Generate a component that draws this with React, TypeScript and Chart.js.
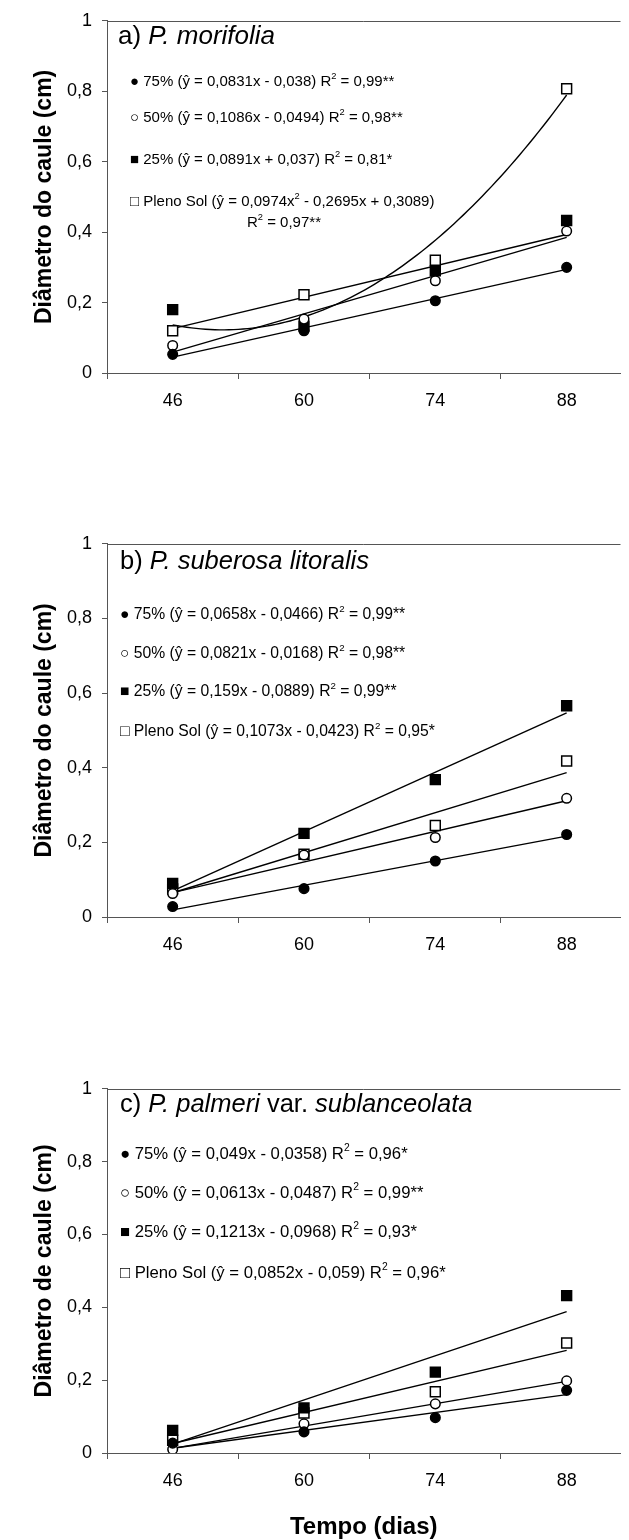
import React, { useEffect, useRef } from 'react';
import { Chart, registerables } from 'chart.js';

Chart.register(...registerables);

const FONT = '"Liberation Sans", Arial, Helvetica, sans-serif';

// ---- data ----
const DAYS = [46, 60, 74, 88];
const Y_TICKS = [0, 0.2, 0.4, 0.6, 0.8, 1];
const SERIES = ['75%', '50%', '25%', 'Pleno Sol'];

// a) P. morifolia
const A_75 = [0.053, 0.12, 0.205, 0.3];
const A_50 = [0.078, 0.153, 0.262, 0.403];
const A_25 = [0.18, 0.133, 0.29, 0.433];
const A_PS = [0.12, 0.222, 0.32, 0.807];

// b) P. suberosa litoralis
const B_75 = [0.028, 0.076, 0.15, 0.221];
const B_50 = [0.063, 0.166, 0.213, 0.318];
const B_25 = [0.09, 0.224, 0.368, 0.566];
const B_PS = [0.075, 0.168, 0.245, 0.418];

// c) P. palmeri var. sublanceolata
const C_75 = [0.027, 0.058, 0.097, 0.172];
const C_50 = [0.01, 0.08, 0.135, 0.198];
const C_25 = [0.062, 0.124, 0.222, 0.432];
const C_PS = [0.035, 0.11, 0.168, 0.302];

// regression coefficients [x^2, x, const], x = sampling order 1..4
const A_FIT_75 = [0, 0.0831, -0.038];
const A_FIT_50 = [0, 0.1086, -0.0494];
const A_FIT_25 = [0, 0.0891, 0.037];
const A_FIT_PS = [0.0974, -0.2695, 0.3089];

const B_FIT_75 = [0, 0.0658, -0.0466];
const B_FIT_50 = [0, 0.0821, -0.0168];
const B_FIT_25 = [0, 0.159, -0.0889];
const B_FIT_PS = [0, 0.1073, -0.0423];

const C_FIT_75 = [0, 0.049, -0.0358];
const C_FIT_50 = [0, 0.0613, -0.0487];
const C_FIT_25 = [0, 0.1213, -0.0968];
const C_FIT_PS = [0, 0.0852, -0.059];

const A_TITLE = 'a) _P. morifolia_';
const B_TITLE = 'b) _P. suberosa litoralis_';
const C_TITLE = 'c) _P. palmeri_ var. _sublanceolata_';

const A_LEGEND = [
  '● 75% (ŷ = 0,0831x - 0,038) R^2 = 0,99**',
  '○ 50% (ŷ = 0,1086x - 0,0494) R^2 = 0,98**',
  '■ 25% (ŷ = 0,0891x + 0,037) R^2 = 0,81*',
  '□ Pleno Sol (ŷ = 0,0974x^2 - 0,2695x + 0,3089)',
  'R^2 = 0,97**',
];
const B_LEGEND = [
  '● 75% (ŷ = 0,0658x - 0,0466) R^2 = 0,99**',
  '○ 50% (ŷ = 0,0821x - 0,0168) R^2 = 0,98**',
  '■ 25% (ŷ = 0,159x - 0,0889) R^2 = 0,99**',
  '□ Pleno Sol (ŷ = 0,1073x - 0,0423) R^2 = 0,95*',
];
const C_LEGEND = [
  '● 75% (ŷ = 0,049x - 0,0358) R^2 = 0,96*',
  '○ 50% (ŷ = 0,0613x - 0,0487) R^2 = 0,99**',
  '■ 25% (ŷ = 0,1213x - 0,0968) R^2 = 0,93*',
  '□ Pleno Sol (ŷ = 0,0852x - 0,059) R^2 = 0,96*',
];

const Y_TITLE_AB = 'Diâmetro do caule (cm)';
const Y_TITLE_C = 'Diâmetro de caule (cm)';
const X_TITLE = 'Tempo (dias)';

// ---- helpers ----
const fitValue = (c: number[], day: number) => {
  const x = (day - DAYS[0]) / (DAYS[1] - DAYS[0]) + 1;
  return c[0] * x * x + c[1] * x + c[2];
};

const trendDays = (c: number[]) => {
  if (c[0] === 0) return [DAYS[0], DAYS[DAYS.length - 1]];
  const out: number[] = [];
  for (let d = DAYS[0]; d <= DAYS[DAYS.length - 1]; d += 0.5) out.push(d);
  return out;
};

const AXIS = '#555555';

function drawRich(ctx: CanvasRenderingContext2D, str: string, x: number, y: number, size: number) {
  let italic = false;
  let cx = x;
  let buf = '';
  const flush = () => {
    if (!buf) return;
    ctx.font = `${italic ? 'italic ' : ''}${size}px ${FONT}`;
    ctx.fillText(buf, cx, y);
    cx += ctx.measureText(buf).width;
    buf = '';
  };
  for (let i = 0; i < str.length; i++) {
    const ch = str[i];
    if (ch === '_') {
      flush();
      italic = !italic;
      continue;
    }
    if (ch === '^') {
      flush();
      const s = str[++i];
      const ss = size * 0.62;
      ctx.font = `${italic ? 'italic ' : ''}${ss}px ${FONT}`;
      ctx.fillText(s, cx, y - size * 0.38);
      cx += ctx.measureText(s).width;
      continue;
    }
    buf += ch;
  }
  flush();
}

type Ann = { text: string; x: number; y: number; size: number };

interface PanelProps {
  top: number;
  height: number;
  plotBottom: number; // within canvas
  values: number[][];
  fits: number[][];
  yTitle: string;
  xTitle?: string;
  anns: Ann[];
}

const STYLES = [
  { pointStyle: 'circle', fill: '#000000', r: 4.8 },
  { pointStyle: 'circle', fill: '#ffffff', r: 4.8 },
  { pointStyle: 'rect', fill: '#000000', r: 7 },
  { pointStyle: 'rect', fill: '#ffffff', r: 7 },
];

function Panel({ top, height, plotBottom, values, fits, yTitle, xTitle, anns }: PanelProps) {
  const ref = useRef<HTMLCanvasElement | null>(null);
  useEffect(() => {
    if (!ref.current) return;
    const datasets: any[] = [];
    fits.forEach((c, i) => {
      datasets.push({
        label: SERIES[i] + ' (ajuste)',
        data: trendDays(c).map((d) => ({ x: d, y: fitValue(c, d) })),
        showLine: true,
        borderColor: '#000000',
        borderWidth: 1.4,
        pointRadius: 0,
        fill: false,
        tension: 0,
        order: 10 + i,
      });
    });
    values.forEach((v, i) => {
      const s = STYLES[i];
      datasets.push({
        label: SERIES[i],
        data: DAYS.map((d, j) => ({ x: d, y: v[j] })),
        showLine: false,
        pointStyle: s.pointStyle,
        pointRadius: s.r,
        pointBackgroundColor: s.fill,
        pointBorderColor: '#000000',
        pointBorderWidth: 1.5,
        order: 1 + i,
      });
    });

    const annPlugin = {
      id: 'ann',
      afterDraw(chart: any) {
        const ctx = chart.ctx as CanvasRenderingContext2D;
        const ca = chart.chartArea;
        ctx.save();
        ctx.strokeStyle = AXIS;
        ctx.lineWidth = 1;
        ctx.beginPath();
        ctx.moveTo(ca.left, Math.round(ca.top) + 0.5);
        ctx.lineTo(ca.right, Math.round(ca.top) + 0.5);
        ctx.stroke();
        ctx.fillStyle = '#000000';
        ctx.textBaseline = 'middle';
        ctx.textAlign = 'left';
        anns.forEach((a) => drawRich(ctx, a.text, a.x, a.y - top, a.size));
        ctx.restore();
      },
    };

    const xh = height - plotBottom;
    const chart = new Chart(ref.current, {
      type: 'scatter',
      data: { datasets },
      plugins: [annPlugin],
      options: {
        animation: false,
        responsive: false,
        maintainAspectRatio: false,
        layout: { padding: { top: 15, left: 0, right: 0, bottom: 0 } },
        plugins: { legend: { display: false }, tooltip: { enabled: false } },
        scales: {
          x: {
            type: 'linear',
            min: 39,
            max: 93.74,
            afterBuildTicks: (s: any) => {
              s.ticks = DAYS.map((v) => ({ value: v }));
            },
            afterFit: (s: any) => {
              s.height = xh;
            },
            ticks: {
              callback: (v: any) => String(v),
              font: { family: FONT, size: 18 },
              color: '#000000',
              padding: 11,
              maxRotation: 0,
              autoSkip: false,
            },
            grid: {
              offset: true,
              drawOnChartArea: false,
              drawTicks: true,
              tickLength: 6,
              color: AXIS,
            },
            border: { display: true, color: AXIS, width: 1 },
            title: {
              display: !!xTitle,
              text: xTitle || '',
              color: '#000000',
              font: { family: FONT, size: 24, weight: 'bold', lineHeight: 1 },
              padding: { top: 0, bottom: 1 },
            },
          },
          y: {
            min: 0,
            max: 1,
            afterBuildTicks: (s: any) => {
              s.ticks = Y_TICKS.map((v) => ({ value: v }));
            },
            afterFit: (s: any) => {
              s.width = 107;
            },
            ticks: {
              callback: (v: any) => (v === 0 || v === 1 ? String(v) : Number(v).toFixed(1).replace('.', ',')),
              font: { family: FONT, size: 18 },
              color: '#000000',
              padding: 10,
            },
            grid: {
              drawOnChartArea: false,
              drawTicks: true,
              tickLength: 5,
              color: AXIS,
            },
            border: { display: true, color: AXIS, width: 1 },
            title: {
              display: true,
              text: yTitle,
              color: '#000000',
              font: { family: FONT, size: 23, weight: 'bold' },
              padding: { top: 31, bottom: 0 },
            },
          },
        },
      } as any,
    });
    return () => chart.destroy();
  }, []);
  return (
    <canvas
      ref={ref}
      width={629}
      height={height}
      style={{ position: 'absolute', left: 0, top, width: 629, height }}
    />
  );
}

export default function App() {
  return (
    <div style={{ position: 'absolute', left: 0, top: 0, width: 629, height: 1540, background: '#ffffff' }}>
      <Panel
        top={0}
        height={420}
        plotBottom={373}
        values={[A_75, A_50, A_25, A_PS]}
        fits={[A_FIT_75, A_FIT_50, A_FIT_25, A_FIT_PS]}
        yTitle={Y_TITLE_AB}
        anns={[
          { text: A_TITLE, x: 118, y: 37, size: 26 },
          { text: A_LEGEND[0], x: 130, y: 82, size: 15 },
          { text: A_LEGEND[1], x: 130, y: 118, size: 15 },
          { text: A_LEGEND[2], x: 130, y: 160, size: 15 },
          { text: A_LEGEND[3], x: 130, y: 202, size: 15 },
          { text: A_LEGEND[4], x: 247, y: 223, size: 15 },
        ]}
      />
      <Panel
        top={523}
        height={441}
        plotBottom={394}
        values={[B_75, B_50, B_25, B_PS]}
        fits={[B_FIT_75, B_FIT_50, B_FIT_25, B_FIT_PS]}
        yTitle={Y_TITLE_AB}
        anns={[
          { text: B_TITLE, x: 120, y: 562, size: 25.5 },
          { text: B_LEGEND[0], x: 120, y: 615, size: 15.7 },
          { text: B_LEGEND[1], x: 120, y: 654, size: 15.7 },
          { text: B_LEGEND[2], x: 120, y: 692, size: 15.7 },
          { text: B_LEGEND[3], x: 120, y: 732, size: 15.7 },
        ]}
      />
      <Panel
        top={1068}
        height={472}
        plotBottom={385}
        values={[C_75, C_50, C_25, C_PS]}
        fits={[C_FIT_75, C_FIT_50, C_FIT_25, C_FIT_PS]}
        yTitle={Y_TITLE_C}
        xTitle={X_TITLE}
        anns={[
          { text: C_TITLE, x: 120, y: 1105, size: 25.5 },
          { text: C_LEGEND[0], x: 120, y: 1154, size: 16.7 },
          { text: C_LEGEND[1], x: 120, y: 1193, size: 16.7 },
          { text: C_LEGEND[2], x: 120, y: 1232, size: 16.7 },
          { text: C_LEGEND[3], x: 120, y: 1273, size: 16.7 },
        ]}
      />
    </div>
  );
}
